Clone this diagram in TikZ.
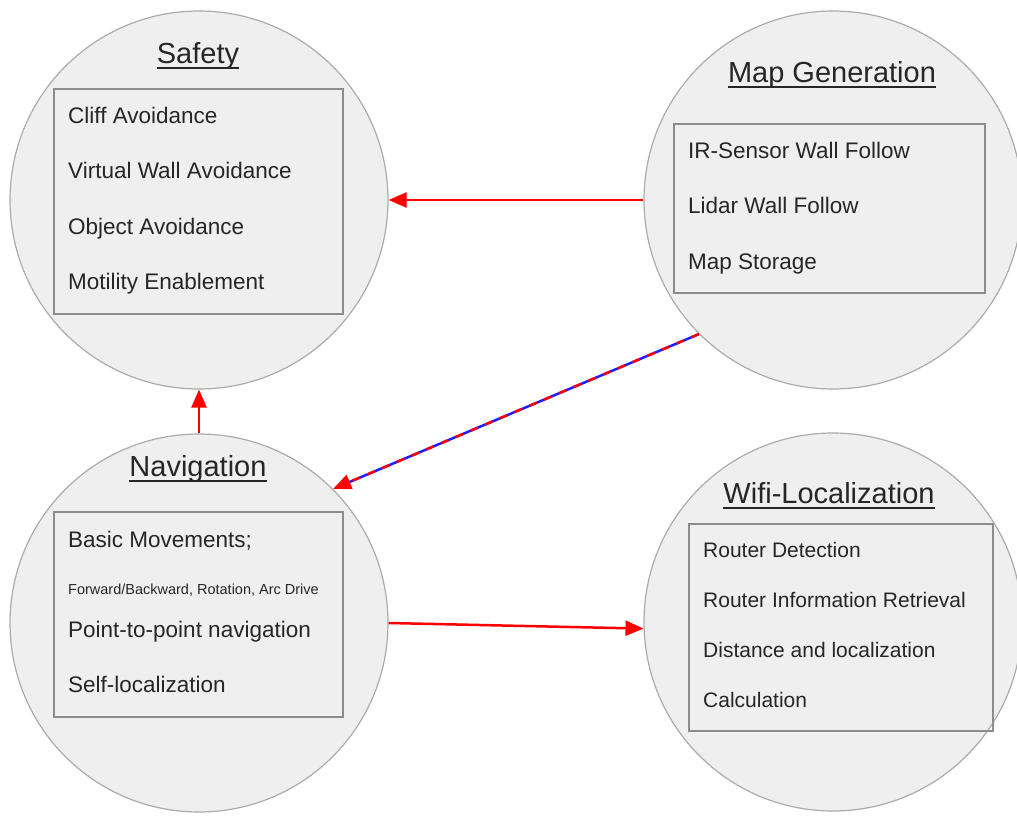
\documentclass[tikz,border=0pt]{standalone}
\usepackage{fontspec}
\setmainfont{Liberation Sans}
\usetikzlibrary{arrows.meta}
\definecolor{circfill}{HTML}{EFEFEF}
\definecolor{circline}{HTML}{ABABAB}
\definecolor{boxline}{HTML}{8C8C8C}
\definecolor{txt}{HTML}{262626}
\definecolor{arrred}{HTML}{FF0000}
\definecolor{arrblue}{HTML}{1E1EFF}
\begin{document}
\begin{tikzpicture}[x=1pt,y=-1pt,
  bubble/.style={circle, draw=circline, fill=circfill, line width=1.2pt, minimum size=378pt, inner sep=0pt},
  panel/.style={draw=boxline, line width=1.6pt, anchor=north west, inner sep=0pt},
  ttl/.style={anchor=base, inner sep=0pt, text=txt, font=\fontsize{29}{29}\selectfont},
  uline/.style={draw=txt, line width=2pt},
  item/.style={anchor=base west, inner sep=0pt, text=txt, font=\fontsize{22.5}{22.5}\selectfont},
  itemw/.style={anchor=base west, inner sep=0pt, text=txt, font=\fontsize{21}{21}\selectfont},
  itemsmall/.style={anchor=base west, inner sep=0pt, text=txt, font=\fontsize{14.5}{14.5}\selectfont},
  conn/.style={draw=arrred, line width=2.5pt, -{Triangle[length=18pt,width=15pt]}}
]
\path[use as bounding box] (0,0) rectangle (1017,821);
\clip (0,0) rectangle (1017,821);

% circles
\node[bubble] (safety) at (199,200) {};
\node[bubble] (map) at (833,200) {};
\node[bubble] (nav) at (199,623) {};
\node[bubble] (wifi) at (833,622) {};

% Safety
\node[ttl] (st) at (198,64) {Safety};
\draw[uline] ([yshift=-4.5pt]st.base west) -- ([yshift=-4.5pt]st.base east);
\node[panel, minimum width=289pt, minimum height=225pt] (sbox) at (53,88) {};
\node[item] (s1) at (68,124) {Cliff Avoidance};
\node[item] (s2) at (68,179) {Virtual Wall Avoidance};
\node[item] (s3) at (68,234) {Object Avoidance};
\node[item] (s4) at (68,289) {Motility Enablement};

% Map Generation
\node[ttl] (mt) at (832,83) {Map Generation};
\draw[uline] ([yshift=-4.5pt]mt.base west) -- ([yshift=-4.5pt]mt.base east);
\node[panel, minimum width=311pt, minimum height=169pt] (mbox) at (673,123) {};
\node[item] (m1) at (688,159) {IR-Sensor Wall Follow};
\node[item] (m2) at (688,214) {Lidar Wall Follow};
\node[item] (m3) at (688,269) {Map Storage};

% Navigation
\node[ttl] (nt) at (198,476) {Navigation};
\draw[uline] ([yshift=-4.5pt]nt.base west) -- ([yshift=-4.5pt]nt.base east);
\node[panel, minimum width=289pt, minimum height=205pt] (nbox) at (53,511) {};
\node[item] (n1) at (68,547) {Basic Movements;};
\node[itemsmall] (n2) at (68,594) {Forward/Backward, Rotation, Arc Drive};
\node[item] (n3) at (68,637) {Point-to-point navigation};
\node[item] (n4) at (68,692) {Self-localization};

% Wifi-Localization
\node[ttl] (wt) at (829,503) {Wifi-Localization};
\draw[uline] ([yshift=-4.5pt]wt.base west) -- ([yshift=-4.5pt]wt.base east);
\node[panel, minimum width=304pt, minimum height=207pt] (wbox) at (688,523) {};
\node[itemw] (w1) at (703,557) {Router Detection};
\node[itemw] (w2) at (703,607) {Router Information Retrieval};
\node[itemw] (w3) at (703,657) {Distance and localization};
\node[itemw] (w4) at (703,707) {Calculation};

% connectors
\draw[conn] (map.west) -- (safety.east);
\draw[conn] (nav.north) -- (safety.south);
\draw[draw=arrblue, line width=2.5pt, shorten >=16pt] (map.225) -- (nav.45);
\draw[conn, dash pattern=on 8pt off 8pt] (map.225) -- (nav.45);
\draw[conn] (nav.east) -- (wifi.182);
\end{tikzpicture}
\end{document}
